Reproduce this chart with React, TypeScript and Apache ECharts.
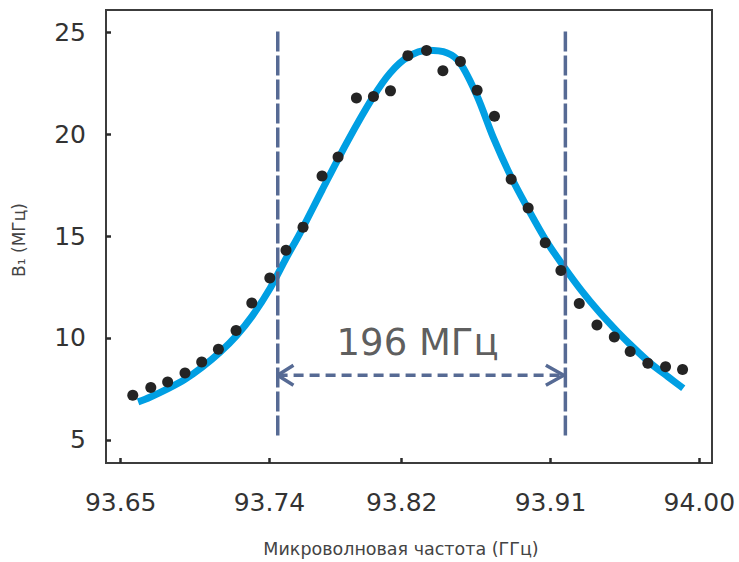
import React, { useEffect, useRef } from "react";
import * as echarts from "echarts";

// Measured points (GHz, MHz)
const pointX = [
  93.6573, 93.6682, 93.6784, 93.6889, 93.699, 93.7091, 93.7198, 93.7293, 93.7402, 93.75,
  93.7603, 93.7718, 93.7815, 93.7926, 93.8029, 93.8132, 93.8237, 93.835, 93.8449, 93.8555,
  93.8656, 93.8761, 93.8862, 93.8965, 93.9068, 93.9163, 93.9274, 93.9381, 93.9486, 93.9582,
  93.9689, 93.9796, 93.9899,
];
const pointY = [
  7.19, 7.57, 7.84, 8.28, 8.82, 9.45, 10.37, 11.72, 12.94, 14.3,
  15.44, 17.95, 18.88, 21.78, 21.85, 22.13, 23.86, 24.11, 23.12, 23.57,
  22.16, 20.88, 17.79, 16.38, 14.67, 13.31, 11.69, 10.64, 10.05, 9.33,
  8.76, 8.58, 8.45,
];

// Fitted curve
const fitX = [
  93.6605, 93.6677, 93.6786, 93.6889, 93.6992, 93.7101, 93.7198, 93.7295, 93.7404, 93.7501,
  93.7585, 93.7718, 93.787, 93.8027, 93.813, 93.8239, 93.8354, 93.8475, 93.8553, 93.8656,
  93.8753, 93.8862, 93.897, 93.9078, 93.9185, 93.929, 93.9395, 93.95, 93.9605, 93.971,
  93.981, 93.9903,
];
const fitY = [
  6.86, 7.09, 7.51, 7.97, 8.56, 9.3, 10.09, 11.07, 12.44, 13.92,
  15.15, 17.26, 19.62, 21.83, 23.01, 23.8, 24.12, 23.99, 23.5, 21.88,
  19.86, 17.9, 16.25, 14.72, 13.45, 12.3, 11.27, 10.35, 9.5, 8.72,
  8.1, 7.53,
];

// Axis ticks
const xTicks = [93.65, 93.74, 93.82, 93.91, 94.0];
const yTicks = [5, 10, 15, 20, 25];
const xRange = [93.6411, 94.0077];
const yRange = [3.86, 26.1];

// Annotation: width markers
const markerX = [93.745, 93.919];
const markerY = [25.04, 5.17];
const arrowY = 8.17;
const arrowTipX = [93.7449, 93.918];
const arrowArmX = [93.7545, 93.9072];
const arrowArmDy = 0.49;
const widthLabel = "196 МГц";
const widthLabelPos = [93.8296, 9.79];

const xName = "Микроволновая частота (ГГц)";
const yName = "B₁ (МГц)";

const FONT = "DejaVu Sans";
const DASH_COLOR = "#566a94";

export default function App() {
  const ref = useRef<HTMLDivElement>(null);
  useEffect(() => {
    if (!ref.current) return;
    const chart = echarts.init(ref.current, undefined, { renderer: "svg" });
    const pts = pointX.map((x, i) => [x, pointY[i]]);
    const fit = fitX.map((x, i) => [x, fitY[i]]);
    const vline = (x: number) => ({
      type: "line",
      data: [
        [x, markerY[0]],
        [x, markerY[1]],
      ],
      showSymbol: false,
      symbol: "none",
      lineStyle: { color: DASH_COLOR, width: 3.5, type: [20, 4] },
      z: 3,
      silent: true,
    });
    const chevron = (tip: number, arm: number) => ({
      type: "line",
      data: [
        [arm, arrowY + arrowArmDy],
        [tip, arrowY],
        [arm, arrowY - arrowArmDy],
      ],
      symbol: "none",
      lineStyle: { color: DASH_COLOR, width: 3.5 },
      z: 3,
      silent: true,
    });
    chart.setOption({
      animation: false,
      backgroundColor: "#ffffff",
      grid: {
        left: 106,
        top: 10,
        right: 27,
        bottom: 99,
        show: true,
        borderColor: "#3c3c3c",
        borderWidth: 2,
        backgroundColor: "transparent",
      },
      xAxis: {
        type: "value",
        min: xRange[0],
        max: xRange[1],
        axisLine: { show: true, lineStyle: { color: "#3c3c3c", width: 2 } },
        axisTick: {
          show: true,
          inside: true,
          length: 5,
          customValues: xTicks,
          lineStyle: { color: "#2a2a2a", width: 2.5 },
        },
        axisLabel: {
          customValues: xTicks,
          formatter: (v: number) => v.toFixed(2),
          fontFamily: FONT,
          fontSize: 25,
          color: "#333333",
          margin: 27,
        },
        splitLine: { show: false },
      },
      yAxis: {
        type: "value",
        min: yRange[0],
        max: yRange[1],
        axisLine: { show: true, lineStyle: { color: "#3c3c3c", width: 2 } },
        axisTick: {
          show: true,
          inside: true,
          length: 5,
          customValues: yTicks,
          lineStyle: { color: "#2a2a2a", width: 2.5 },
        },
        axisLabel: {
          customValues: yTicks,
          fontFamily: FONT,
          fontSize: 25,
          color: "#333333",
          margin: 20,
        },
        splitLine: { show: false },
      },
      graphic: [
        {
          type: "text",
          x: 19,
          y: 240,
          rotation: Math.PI / 2,
          style: {
            text: yName,
            align: "center",
            verticalAlign: "middle",
            fontFamily: FONT,
            fontSize: 17,
            fill: "#444444",
          },
        },
        {
          type: "text",
          x: 401,
          y: 549,
          style: {
            text: xName,
            align: "center",
            verticalAlign: "middle",
            fontFamily: FONT,
            fontSize: 17.5,
            fill: "#444444",
          },
        },
      ],
      series: [
        {
          type: "line",
          data: fit,
          smooth: 0.3,
          symbol: "none",
          lineStyle: { color: "#009fe3", width: 7 },
          z: 2,
          silent: true,
        },
        vline(markerX[0]),
        vline(markerX[1]),
        {
          type: "line",
          data: [
            [arrowTipX[0], arrowY],
            [arrowTipX[1], arrowY],
          ],
          symbol: "none",
          lineStyle: { color: DASH_COLOR, width: 3.5, type: [10, 6] },
          z: 3,
          silent: true,
        },
        chevron(arrowTipX[0], arrowArmX[0]),
        chevron(arrowTipX[1], arrowArmX[1]),
        {
          type: "scatter",
          data: pts,
          symbol: "circle",
          symbolSize: 11,
          itemStyle: { color: "#242424", opacity: 1 },
          z: 4,
          silent: true,
        },
        {
          type: "scatter",
          data: [widthLabelPos],
          symbolSize: 0,
          itemStyle: { color: "transparent" },
          label: {
            show: true,
            position: "inside",
            formatter: widthLabel,
            fontFamily: FONT,
            fontSize: 37,
            color: "#333333",
          },
          z: 5,
          silent: true,
        },
      ],
    });
    return () => chart.dispose();
  }, []);
  return (
    <div
      ref={ref}
      style={{ position: "fixed", left: 0, top: 0, width: 739, height: 562, background: "#fff" }}
    />
  );
}
